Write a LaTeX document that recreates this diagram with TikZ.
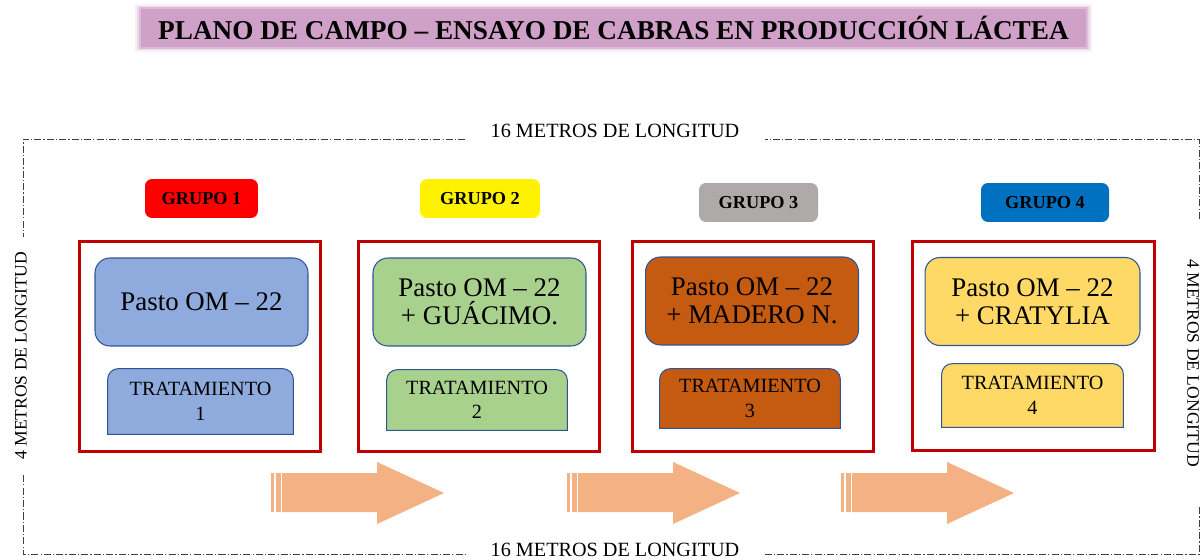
\documentclass[tikz,border=0pt]{standalone}
\usepackage{fontspec}
\setmainfont{Liberation Serif}
\usetikzlibrary{backgrounds}
\definecolor{lila}{RGB}{207,160,200}
\definecolor{rojomarco}{RGB}{192,0,0}
\definecolor{bordecaja}{RGB}{47,85,151}
\definecolor{azulclaro}{RGB}{143,170,220}
\definecolor{verdeclaro}{RGB}{169,209,142}
\definecolor{naranja}{RGB}{197,90,17}
\definecolor{amarillo}{RGB}{255,217,102}
\definecolor{grisgrupo}{RGB}{174,170,170}
\definecolor{azulgrupo}{RGB}{0,112,192}
\definecolor{flecha}{RGB}{244,177,131}
\begin{document}
\begin{tikzpicture}[x=0.02cm,y=-0.02cm,
		frame/.style={black!75,line width=0.55pt,dash pattern=on 4pt off 1.2pt on 0.7pt off 1.2pt},
		metros/.style={font=\fontsize{11.5}{14}\selectfont,inner sep=0pt},
		lado/.style={font=\fontsize{10}{12}\selectfont,inner sep=0pt},
		grupo/.style={rounded corners=4pt,inner sep=0pt,minimum height=0.78cm,font=\fontsize{10.4}{12}\selectfont\bfseries},
		marco/.style={draw=rojomarco,line width=1.7pt,minimum width=4.84cm,minimum height=4.22cm,inner sep=0pt},
		pasto/.style={draw=bordecaja,line width=0.6pt,rounded corners=8.5pt,minimum width=4.26cm,minimum height=1.76cm,inner sep=0pt,align=center,font=\fontsize{15.3}{16}\selectfont},
		trat/.style={inner sep=0pt,align=center,font=\fontsize{11.5}{14}\selectfont}]
	\useasboundingbox (0,0) rectangle (1203,560);
	% titulo
	\node [fill=lila,minimum width=18.92cm,minimum height=0.76cm,inner sep=0pt,font=\fontsize{15.5}{17}\selectfont\bfseries] (titulo) at (613.5,28) {PLANO DE CAMPO -- ENSAYO DE CABRAS EN PRODUCCIÓN LÁCTEA};
	\begin{scope}[on background layer]
		\foreach \g/\o in {5/0.15,3/0.3,1.5/0.5}
			\fill [lila,opacity=\o] ([shift={(-\g,-\g)}]titulo.north west) rectangle ([shift={(\g,\g)}]titulo.south east);
	\end{scope}
	% marco de 16 x 4 metros
	\coordinate (nw) at (23,139);
	\coordinate (ne) at (1199,139);
	\coordinate (sw) at (23,554);
	\coordinate (se) at (1199,554);
	\node [metros,inner xsep=0.5cm] (mt) at (615,131) {16 METROS DE LONGITUD};
	\node [metros,inner xsep=0.5cm] (mb) at (615,550) {16 METROS DE LONGITUD};
	\node [lado,rotate=90,inner xsep=0.3cm] (ml) at (21,356) {4 METROS DE LONGITUD};
	\node [lado,rotate=-90,inner xsep=0.8cm] (mr) at (1193,363) {4 METROS DE LONGITUD};
	\draw [frame] (nw -| mt.west) -- (nw) -- (nw |- ml.east);
	\draw [frame] (nw |- ml.west) -- (sw) -- (sw -| mb.west);
	\draw [frame] (sw -| mb.east) -- (se) -- (se |- mr.east);
	\draw [frame] (ne |- mr.west) -- (ne) -- (ne -| mt.east);
	% grupos
	\node [grupo,fill=red,minimum width=2.26cm] (g1) at (201.5,198.5) {GRUPO 1};
	\node [grupo,fill=yellow,minimum width=2.4cm] (g2) at (480,198.5) {GRUPO 2};
	\node [grupo,fill=grisgrupo,minimum width=2.38cm] (g3) at (758.5,202.5) {GRUPO 3};
	\node [grupo,fill=azulgrupo,minimum width=2.56cm] (g4) at (1045,202.5) {GRUPO 4};
	\node [marco] (m1) at (200,346.5) {};
	\node [marco] (m2) at (479,346.5) {};
	\node [marco] (m3) at (753,346.5) {};
	\node [marco,minimum width=4.86cm,minimum height=4.2cm] (m4) at (1033.5,346) {};
	\node [pasto,fill=azulclaro] (p1) at (201.5,302) {Pasto OM -- 22};
	\node [pasto,fill=verdeclaro] (p2) at (479.5,302) {Pasto OM -- 22\\+ GUÁCIMO.};
	\node [pasto,fill=naranja] (p3) at (752,301) {Pasto OM -- 22\\+ MADERO N.};
	\node [pasto,fill=amarillo,minimum width=4.3cm] (p4) at (1032.5,301.5) {Pasto OM -- 22\\+ CRATYLIA};
	\node [trat,minimum width=3.7cm,minimum height=1.3cm] (t1) at (200.5,401.5) {TRATAMIENTO\\1};
	\node [trat,minimum width=3.6cm,minimum height=1.2cm] (t2) at (477,400) {TRATAMIENTO\\2};
	\node [trat,minimum width=3.6cm,minimum height=1.18cm] (t3) at (750,398.5) {TRATAMIENTO\\3};
	\node [trat,minimum width=3.62cm,minimum height=1.26cm] (t4) at (1032.5,395.5) {TRATAMIENTO\\4};
	\begin{scope}[on background layer]
		\foreach \n/\c in {t1/azulclaro,t2/verdeclaro,t3/naranja,t4/amarillo}
			\filldraw [fill=\c,draw=bordecaja,line width=0.6pt] (\n.south west) [rounded corners=6pt] -- (\n.north west) -- (\n.north east) [sharp corners] -- (\n.south east) -- cycle;
	\end{scope}
	% flechas
	\foreach \s in {271,567,841} {
		\fill [flecha] (\s,473) rectangle ++(3,39);
		\fill [flecha] (\s+5,473) rectangle ++(5,39);
		\fill [flecha] (\s+11,473) -- (\s+106,473) -- (\s+106,462) -- (\s+173,493) -- (\s+106,524) -- (\s+106,512) -- (\s+11,512) -- cycle;
	}
\end{tikzpicture}
\end{document}
